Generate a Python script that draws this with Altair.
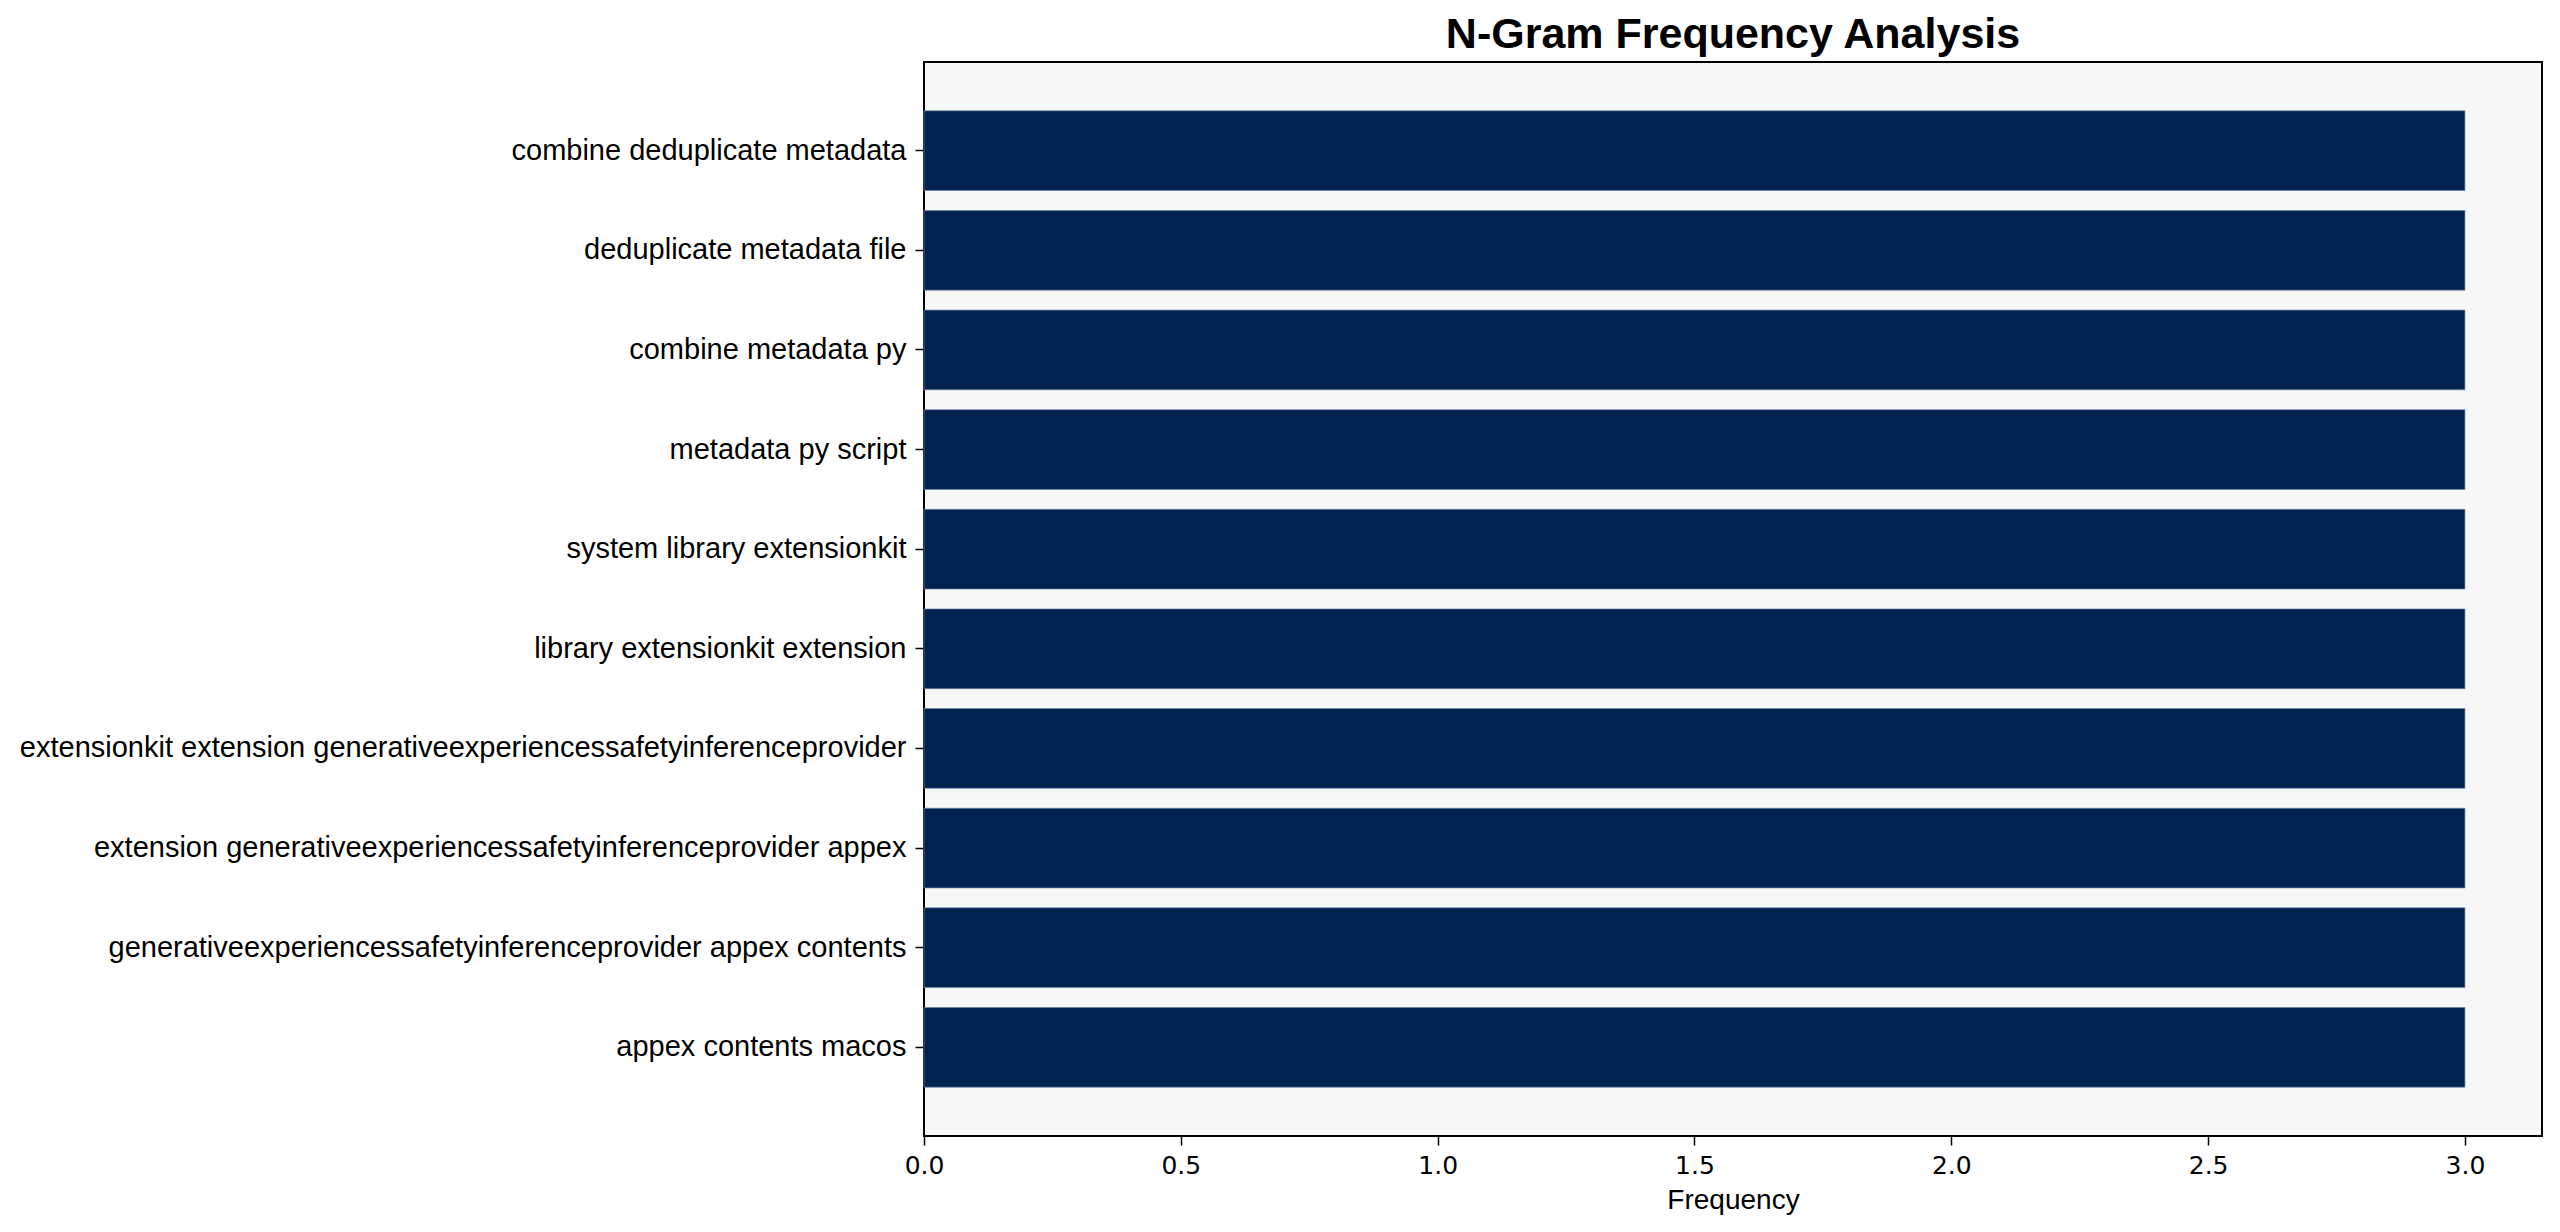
import altair as alt
import pandas as pd

ngrams = [
    "combine deduplicate metadata",
    "deduplicate metadata file",
    "combine metadata py",
    "metadata py script",
    "system library extensionkit",
    "library extensionkit extension",
    "extensionkit extension generativeexperiencessafetyinferenceprovider",
    "extension generativeexperiencessafetyinferenceprovider appex",
    "generativeexperiencessafetyinferenceprovider appex contents",
    "appex contents macos",
]
frequencies = [3, 3, 3, 3, 3, 3, 3, 3, 3, 3]
x_ticks = [0.0, 0.5, 1.0, 1.5, 2.0, 2.5, 3.0]

df = pd.DataFrame({"ngram": ngrams, "freq": frequencies})

FONT = "Liberation Sans"

chart = (
    alt.Chart(df)
    .mark_bar(color="#00224E", stroke="#6f86a6", strokeWidth=1, strokeOpacity=0.7)
    .encode(
        x=alt.X(
            "freq:Q",
            title="Frequency",
            scale=alt.Scale(domain=[0, 3.15], nice=False, zero=True),
            axis=alt.Axis(
                values=x_ticks,
                format=".1f",
                grid=False,
                tickSize=9,
                tickColor="black",
                tickWidth=1.5,
                domain=False,
                labelFont="DejaVu Sans",
                labelFontSize=25,
                labelColor="black",
                labelPadding=8,
                labelFlush=False,
                titleFont=FONT,
                titleFontSize=28,
                titleFontWeight="normal",
                titleColor="black",
                titlePadding=8,
            ),
        ),
        y=alt.Y(
            "ngram:N",
            title=None,
            sort=ngrams,
            scale=alt.Scale(paddingInner=0.2, paddingOuter=0.49),
            axis=alt.Axis(
                grid=False,
                tickSize=9,
                tickColor="black",
                tickWidth=1.5,
                domain=False,
                labelFont=FONT,
                labelFontSize=29,
                labelColor="black",
                labelPadding=9,
                labelLimit=2000,
            ),
        ),
    )
    .properties(
        width=1618,
        height=1074,
        title=alt.TitleParams(
            "N-Gram Frequency Analysis",
            font=FONT,
            fontSize=43,
            fontWeight="bold",
            color="black",
            anchor="middle",
            baseline="bottom",
            offset=6,
            dy=44,
        ),
        autosize=alt.AutoSizeParams(type="none"),
        padding={"left": 916, "top": 54, "right": 10, "bottom": 80},
    )
    .configure(background="white")
    .configure_view(stroke="black", strokeWidth=2, fill="#F7F7F7")
)

chart.save("out.html", embed_options={"renderer": "svg", "actions": False})
